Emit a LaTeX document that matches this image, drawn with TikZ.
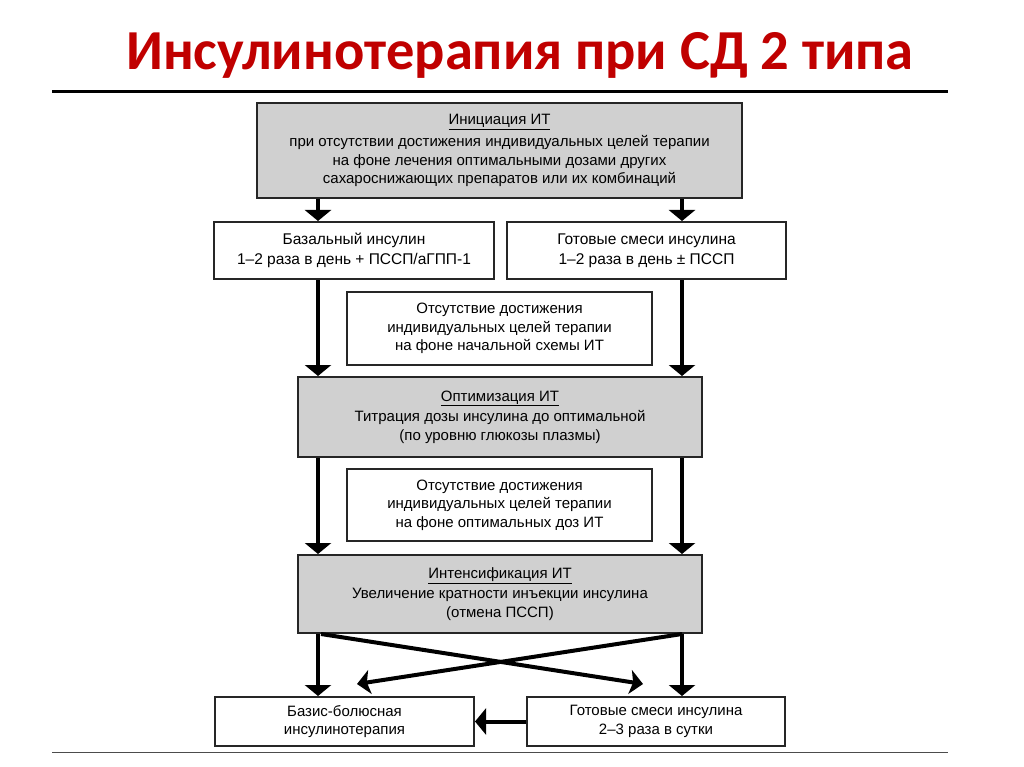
\documentclass[tikz,border=0pt]{standalone}
\usepackage{fontspec}
\setmainfont{Liberation Sans}
\newfontfamily\titlefont{Carlito}
\usetikzlibrary{arrows.meta}

\definecolor{titlered}{RGB}{192,0,0}
\definecolor{stagegray}{RGB}{208,208,208}

\begin{document}
\begin{tikzpicture}[x=1pt,y=-1pt,
    box/.style={draw=black!85,line width=2pt,fill=white,align=center,inner sep=0pt,
        font=\fontsize{15}{18.5}\selectfont},
    stage/.style={box,fill=stagegray},
    flow/.style={line width=4pt,-{Triangle[width=26pt,length=11pt]}},
    cross/.style={line width=4pt,-{Stealth[width=24pt,length=13pt,inset=3pt]}}]
    \useasboundingbox[fill=white] (0,0) rectangle (1024,767);

    % title and rules
    \node[font=\titlefont\bfseries\fontsize{56.5}{60}\selectfont,text=titlered,anchor=base]
        (title) at (520,70) {Инсулинотерапия при СД 2 типа};
    \draw[line width=3pt] (52,92) -- (948,92);
    \draw[line width=0.8pt,black!70] (52,752) -- (948,752);

    % boxes
    \node[stage,minimum width=485,minimum height=95] (init) at (499.5,150.5)
        {\underline{Инициация ИТ}\\[4pt]при отсутствии достижения индивидуальных целей терапии\\
         на фоне лечения оптимальными дозами других\\сахароснижающих препаратов или их комбинаций};
    \node[box,minimum width=280,minimum height=57,font=\fontsize{15.5}{20}\selectfont] (basal) at (354,250.5)
        {Базальный инсулин\\1–2 раза в день + ПССП/аГПП-1};
    \node[box,minimum width=279,minimum height=57,font=\fontsize{15.5}{20}\selectfont] (mixA) at (646.5,250.5)
        {Готовые смеси инсулина\\1–2 раза в день ± ПССП};
    \node[box,minimum width=305,minimum height=73] (failA) at (499.5,328.5)
        {Отсутствие достижения\\индивидуальных целей терапии\\на фоне начальной схемы ИТ};
    \node[stage,minimum width=404,minimum height=80] (optim) at (500,417)
        {\underline{Оптимизация ИТ}\\[2pt]Титрация дозы инсулина до оптимальной\\(по уровню глюкозы плазмы)};
    \node[box,minimum width=305,minimum height=72] (failB) at (499.5,505)
        {Отсутствие достижения\\индивидуальных целей терапии\\на фоне оптимальных доз ИТ};
    \node[stage,minimum width=404,minimum height=78] (intens) at (500,594)
        {\underline{Интенсификация ИТ}\\[2pt]Увеличение кратности инъекции инсулина\\(отмена ПССП)};
    \node[box,minimum width=259,minimum height=49] (bolus) at (344.5,721.5)
        {Базис-болюсная\\инсулинотерапия};
    \node[box,minimum width=258,minimum height=49] (mixB) at (656,721.5)
        {Готовые смеси инсулина\\2–3 раза в сутки};

    % arrow columns
    \coordinate (L) at (318,0);
    \coordinate (R) at (682,0);
    \coordinate (crossL) at (357,684);
    \coordinate (crossR) at (643,684);

    \draw[flow] (init.south -| L) -- (basal.north -| L);
    \draw[flow] (init.south -| R) -- (mixA.north -| R);
    \draw[flow] (basal.south -| L) -- (optim.north -| L);
    \draw[flow] (mixA.south -| R) -- (optim.north -| R);
    \draw[flow] (optim.south -| L) -- (intens.north -| L);
    \draw[flow] (optim.south -| R) -- (intens.north -| R);
    \draw[flow] (intens.south -| L) -- (bolus.north -| L);
    \draw[flow] (intens.south -| R) -- (mixB.north -| R);
    \draw[cross] ([xshift=24pt]intens.south west) -- (crossR);
    \draw[cross] ([xshift=-21pt]intens.south east) -- (crossL);
    \draw[flow] (mixB.west) -- (bolus.east);
\end{tikzpicture}
\end{document}
